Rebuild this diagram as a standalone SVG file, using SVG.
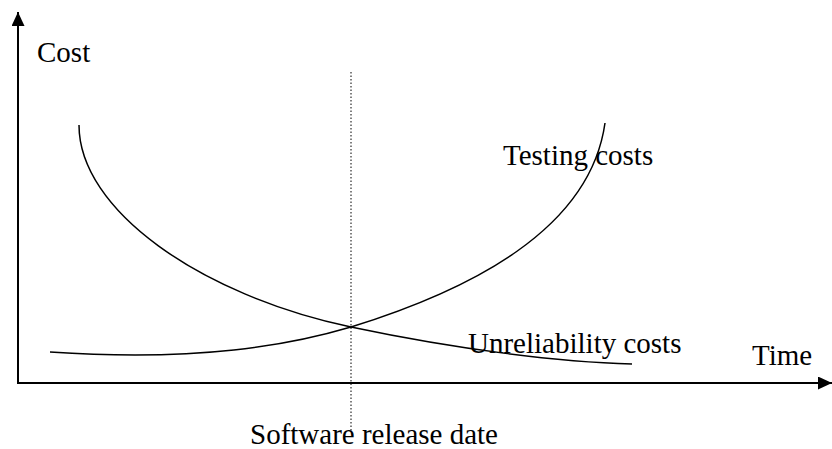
<svg xmlns="http://www.w3.org/2000/svg" width="832" height="449" viewBox="0 0 832 449">
<style>
.t{font-family:"Liberation Serif","Times New Roman",serif;font-size:29px;fill:#000}
.c{fill:none;stroke:#000;stroke-width:1.5}
.ax{stroke:#000;stroke-width:2}
</style>
<defs>
<marker id="ah" markerWidth="14" markerHeight="13" refX="14" refY="6.5" orient="auto" markerUnits="userSpaceOnUse">
<path d="M0,0 L14,6.5 L0,13 z" fill="#000"/>
</marker>
</defs>
<rect width="832" height="449" fill="#fff"/>
<g id="connectors">
<line class="ax" x1="18" y1="383" x2="18" y2="12" marker-end="url(#ah)"/>
<line class="ax" x1="17" y1="383" x2="832" y2="383" marker-end="url(#ah)"/>
<line x1="351" y1="72" x2="351" y2="431" stroke="#000" stroke-width="1" stroke-dasharray="1.5,2"/>
<path class="c" d="M79,125 C79,210 200,295 351,327 C460,350 560,362 632,364"/>
<path class="c" d="M50,352 C200,362 290,345 351,327 C470,290 590,230 605,123"/>
</g>
<g id="labels">
<text class="t" x="37" y="62">Cost</text>
<text class="t" x="503" y="165">Testing costs</text>
<text class="t" x="468" y="353">Unreliability costs</text>
<text class="t" x="752" y="365">Time</text>
<text class="t" x="250" y="444">Software release date</text>
</g>
</svg>
